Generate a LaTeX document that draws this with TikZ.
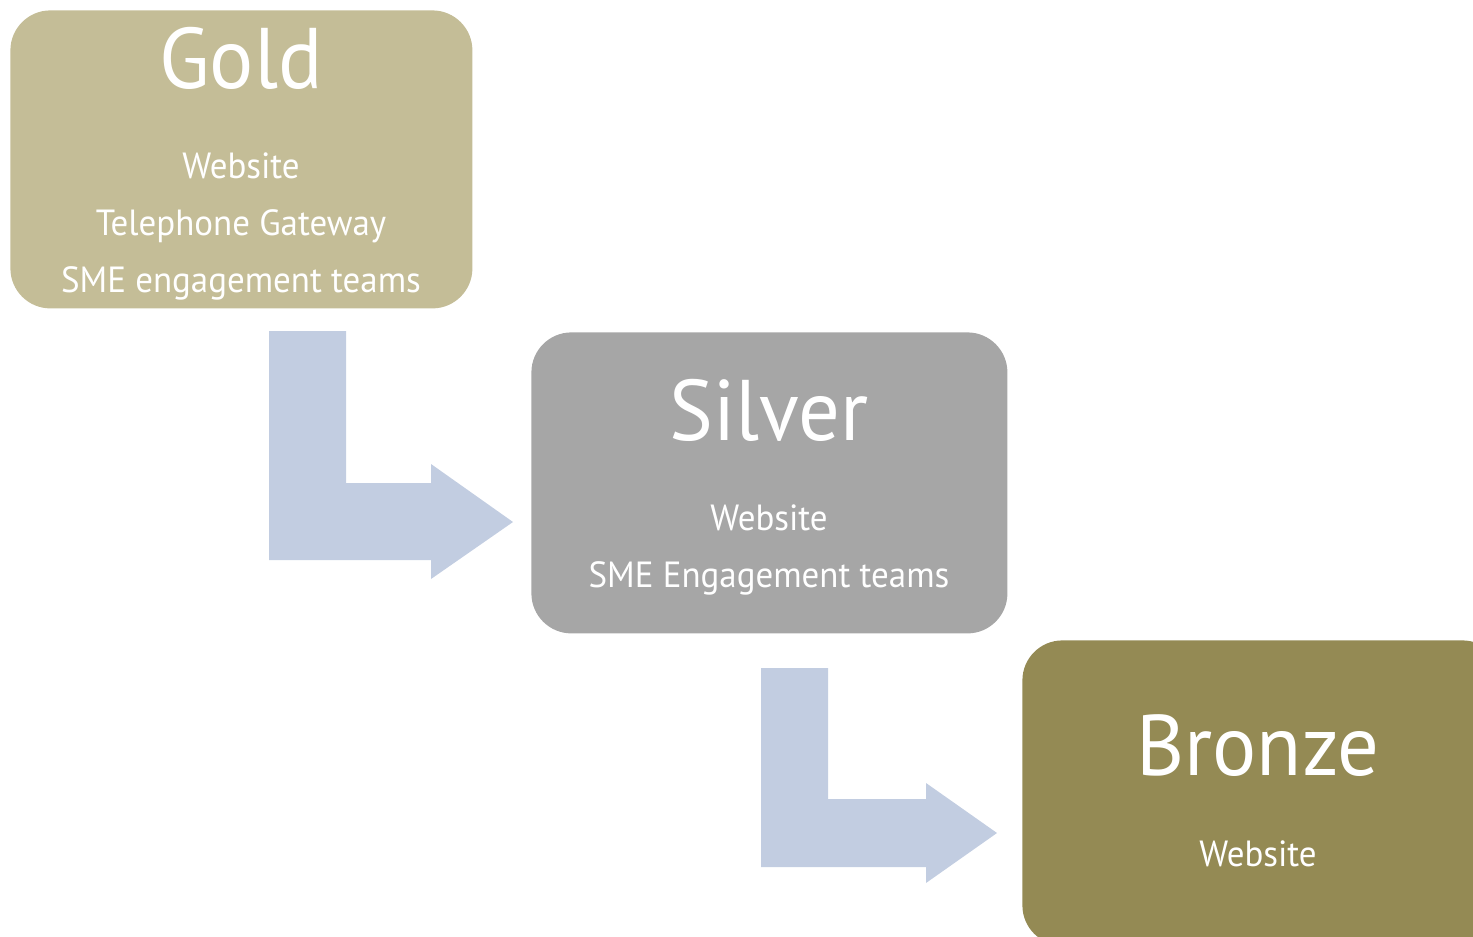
\documentclass[tikz,border=0pt]{standalone}
\usepackage{fontspec}
\setmainfont[FakeStretch=0.96]{PT Sans}
\usetikzlibrary{positioning}
\definecolor{goldbox}{HTML}{C4BD97}
\definecolor{silverbox}{HTML}{A6A6A6}
\definecolor{bronzebox}{HTML}{948A54}
\definecolor{arrowblue}{HTML}{C2CDE1}
\tikzset{
  tier/.style={rounded corners=20pt,inner sep=0pt,anchor=north west},
  title/.style={text=white,font=\fontsize{43}{43}\selectfont,anchor=base},
  item/.style={text=white,font=\fontsize{18.2}{18.2}\selectfont,anchor=base},
  bentarrow/.style={fill=arrowblue,draw=none}
}
\begin{document}
\begin{tikzpicture}[x=0.5pt,y=-0.5pt]
  \useasboundingbox (0,0) rectangle (1473,937);
  \clip (0,0) rectangle (1473,937);
  % tier boxes
  \node[tier,fill=goldbox,minimum width=231pt,minimum height=149pt]   (gold)   at (10,10)   {};
  \node[tier,fill=silverbox,minimum width=238pt,minimum height=150.5pt] (silver) at (531,332) {};
  \node[tier,fill=bronzebox,minimum width=240pt,minimum height=152.5pt] (bronze) at (1022,640) {};
  % gold texts
  \node[title] (goldtitle) at (241,88)  {Gold};
  \node[item]  (gold1)     at (241,178) {Website};
  \node[item]  (gold2)     at (241,235) {Telephone Gateway};
  \node[item]  (gold3)     at (241,292) {SME engagement teams};
  % silver texts
  \node[title] (silvertitle) at (769,440) {Silver};
  \node[item]  (silver1)     at (769,530) {Website};
  \node[item]  (silver2)     at (769,587) {SME Engagement teams};
  % bronze texts
  \node[title] (bronzetitle) at (1258,775) {Bronze};
  \node[item]  (bronze1)     at (1258,866) {Website};
  % bent arrows
  \fill[bentarrow] (269,331) -- (346,331) -- (346,483) -- (431,483) -- (431,464)
    -- (513,522) -- (431,579) -- (431,560) -- (269,560) -- cycle;
  \fill[bentarrow] (761,668) -- (828,668) -- (828,799) -- (926,799) -- (926,783)
    -- (997,833) -- (926,883) -- (926,867) -- (761,867) -- cycle;
\end{tikzpicture}
\end{document}
